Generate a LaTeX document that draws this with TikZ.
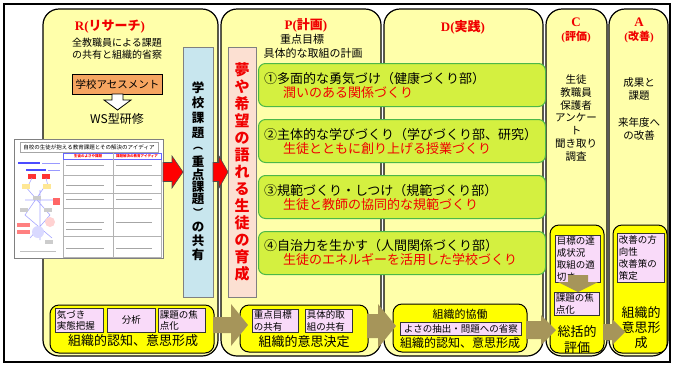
\documentclass[tikz,border=0pt]{standalone}
\usepackage{fontspec}
\setmainfont{Noto Sans CJK JP}
\newfontfamily\lserif{Liberation Serif}
\newcommand\fsz[2]{\fontsize{#1pt}{#2pt}\selectfont}
\definecolor{colY}{HTML}{FFFFAA}
\definecolor{barY}{HTML}{FFFF00}
\definecolor{pinkbox}{HTML}{F9DAF9}
\definecolor{orangebox}{HTML}{F6A560}
\definecolor{bluebox}{HTML}{C8E6EE}
\definecolor{peachbox}{HTML}{FCE0D2}
\definecolor{gfill}{HTML}{D4F040}
\definecolor{gborder}{HTML}{4CB848}
\definecolor{olivec}{HTML}{A6955A}
\definecolor{tred}{HTML}{F00000}
\newcommand\harrow[7]{\draw[#1] (#2,#5-#6) -- (#3,#5-#6) -- (#3,#5-#7) -- (#4,#5) -- (#3,#5+#7) -- (#3,#5+#6) -- (#2,#5+#6) -- cycle;}
\begin{document}
\begin{tikzpicture}[x=1pt,y=-1pt,
  col/.style={draw=black, line width=1.2pt, fill=colY, rounded corners=16pt},
  ybar/.style={draw=black, line width=1pt, fill=barY, rounded corners=9pt},
  pbox/.style={draw=black!80, line width=0.8pt, fill=pinkbox, inner sep=1pt, font=\fsz{9.5}{11.5}},
  gbox/.style={draw=gborder, line width=1pt, fill=gfill, rounded corners=7pt, anchor=north west, minimum width=287pt, minimum height=43pt},
  gline/.style={anchor=west, font=\fsz{13}{13}, inner sep=0pt},
  olivearrow/.style={fill=olivec, draw=none},
  redarrow/.style={fill=red, draw=black!70, line width=0.6pt},
  lbl/.style={text=tred, font=\bfseries\fsz{13}{13}},
  vch/.style={font=\bfseries\fsz{12.5}{12.5}, inner sep=0pt},
  vpar/.style={font=\bfseries\fsz{10}{10}, inner sep=0pt},
  vchr/.style={font=\bfseries\fsz{15}{15}, inner sep=0pt, text=tred},
  sstext/.style={draw=gray!70, line width=0.9pt},
]
\useasboundingbox (0,0) rectangle (674,365);
\fill[white] (0,0) rectangle (674,365);
\draw[line width=1.5pt] (4,4) rectangle (670,362);

% columns
\draw[col] (43,9) rectangle (218,356);
\draw[col] (221,9) rectangle (381,356);
\draw[col] (384,9) rectangle (543,356);
\draw[col] (546,9) rectangle (607,356);
\draw[col] (609,9) rectangle (668,356);

% ---- R column
\node[lbl] (rlab) at (110,27) {{\lserif R(}リサーチ{\lserif )}};
\node[align=center, font=\fsz{10}{12}] (rtext) at (117,49) {全教職員による課題\\の共有と組織的省察};
\node[draw=black, line width=1pt, fill=orangebox, minimum width=85pt, minimum height=20pt, font=\fsz{10.5}{10.5}] (assess) at (117.5,84) {学校アセスメント};
\draw[fill=white, draw=black, line width=0.8pt] (112,94) -- (123,94) -- (123,100) -- (131,100) -- (117.5,110) -- (104,100) -- (112,100) -- cycle;
\node[font=\fsz{12}{12}] (ws) at (117,119) {WS型研修};

% screenshot
\draw[gray, line width=0.8pt, fill=white] (14,139) rectangle (163,258);
\node[draw=gray!70, fill=white, minimum width=138pt, minimum height=10pt, inner sep=0pt, font=\fsz{5.5}{6}] (sstitle) at (89,147) {自校の生徒が抱える教育課題とその解決のアイディア};
\draw[gray!60] (63,153) rectangle (161,257);
\draw[blue!60, line width=0.7pt] (63,153) rectangle (161,159);
\draw[gray!60] (113,153) -- (113,257);
\node[text=red, font=\bfseries\fsz{3.5}{3.5}, inner sep=0pt] (ssh1) at (88,156) {生徒のよさや課題};
\node[text=red, font=\bfseries\fsz{3.5}{3.5}, inner sep=0pt] (ssh2) at (137,156) {課題解決の教育アイディア};
\foreach \yy in {175,193,208,236} \draw[gray!60] (63,\yy) -- (161,\yy);
\foreach \yy in {165,185,199,222,248} {
  \draw[sstext] (66,\yy) -- (104,\yy);
  \draw[sstext] (116,\yy) -- (152,\yy);
}
\draw[sstext] (66,229) -- (102,229);
% mind map
\draw[blue!70, line width=1.2pt] (18,163) -- (40,163);
\draw[blue!40, line width=1pt] (42,163) -- (60,163);
\draw[blue!70, line width=1.2pt] (26,170) -- (46,170);
\draw[blue!40, line width=1pt] (48,170) -- (60,170);
\fill[red!80] (28,174) rectangle (36,179);
\fill[red!80] (42,174) rectangle (50,179);
\draw[blue!35, line width=0.6pt] (25,186) -- (50,215) -- (30,238) (45,186) -- (25,215) -- (52,238) (32,178) -- (28,186) (46,178) -- (48,186) (25,200) -- (55,200) (40,190) -- (40,240);
\fill[yellow!60!orange!40] (22,184) rectangle (30,189);
\fill[yellow!60!orange!40] (43,184) rectangle (51,189);
\fill[gray!40] (33,196) rectangle (41,200);
\fill[gray!40] (20,208) rectangle (28,212);
\fill[gray!40] (44,208) rectangle (52,212);
\fill[red!60] (53,198) rectangle (60,205);
\fill[pink!70] (50,222) circle (5);
\fill[blue!15] (38,232) circle (6);
\fill[red!50] (17,223) rectangle (30,227);
\fill[red!50] (17,230) rectangle (30,234);
\fill[gray!40] (45,240) rectangle (53,244);
\draw[gray!50, line width=0.8pt] (20,251) -- (56,251);

% blue vertical box
\node[draw=gray, line width=0.8pt, fill=bluebox, minimum width=30pt, minimum height=250pt, inner sep=0pt] (kadai) at (198,172) {};
\foreach \ch/\yy [count=\i] in {学/88,校/103,課/118,題/133,重/162,点/174.5,課/187,題/199.5,の/227,共/241,有/255}
  \node[vch] (k\i) at (198,\yy) {\ch};
\node[vpar] (kp1) at (198,148.5) {︵};
\node[vpar] (kp2) at (198,212.5) {︶};

% red arrows
\harrow{redarrow}{163}{172}{183}{172}{9.5}{16}
\harrow{redarrow}{213}{219}{228}{172}{9.5}{16}

% ---- P column
\node[lbl] (plab) at (306,25) {{\lserif P(}計画{\lserif )}};
\node[font=\fsz{11}{11}] (pt1) at (302,39) {重点目標};
\node[font=\fsz{11}{11}] (pt2) at (313,53) {具体的な取組の計画};
\node[draw=gray, line width=0.8pt, fill=peachbox, minimum width=28pt, minimum height=250pt, inner sep=0pt] (yume) at (242,172) {};
\foreach \ch [count=\i] in {夢,や,希,望,の,語,れ,る,生,徒,の,育,成}
  \node[vchr] (y\i) at (242,53+17*\i) {\ch};

% green boxes
\node[gbox] (g1) at (258,63) {};
\node[gline] (g1a) at (264,79) {①多面的な勇気づけ（健康づくり部）};
\node[gline, text=tred] (g1b) at (283,93) {潤いのある関係づくり};
\node[gbox] (g2) at (258,119) {};
\node[gline] (g2a) at (264,135) {②主体的な学びづくり（学びづくり部、研究）};
\node[gline, text=tred] (g2b) at (283,149) {生徒とともに創り上げる授業づくり};
\node[gbox] (g3) at (258,175) {};
\node[gline] (g3a) at (264,191) {③規範づくり・しつけ（規範づくり部）};
\node[gline, text=tred] (g3b) at (283,205) {生徒と教師の協同的な規範づくり};
\node[gbox] (g4) at (258,231) {};
\node[gline] (g4a) at (264,246) {④自治力を生かす（人間関係づくり部）};
\node[gline, text=tred] (g4b) at (283,260) {生徒のエネルギーを活用した学校づくり};

% ---- D column
\node[lbl] (dlab) at (463,27) {{\lserif D(}実践{\lserif )}};

% ---- C column
\node[text=tred, font=\lserif\bfseries\fsz{13}{13}] (clab) at (576,22) {C};
\node[text=tred, font=\bfseries\fsz{11}{11}] (clab2) at (576,37) {{\lserif (}評価{\lserif )}};
\node[align=center, font=\fsz{10.5}{12.7}] (cbody) at (576,118) {生徒\\教職員\\保護者\\アンケー\\ト\\聞き取り\\調査};

% ---- A column
\node[text=tred, font=\lserif\bfseries\fsz{13}{13}] (alab) at (639,22) {A};
\node[text=tred, font=\bfseries\fsz{11}{11}] (alab2) at (639,37) {{\lserif (}改善{\lserif )}};
\node[align=center, font=\fsz{10.5}{12.5}] (abody1) at (639,89) {成果と\\課題};
\node[align=center, font=\fsz{10.5}{13.5}] (abody2) at (639,129) {来年度へ\\の改善};

% ---- bottom bars
% R
\draw[ybar] (50,305) rectangle (214,353);
\node[pbox, minimum width=48pt, minimum height=24pt, text width=45pt, align=left, anchor=north west] (rp1) at (55,308) {気づき\\実態把握};
\node[pbox, minimum width=48pt, minimum height=24pt, text width=45pt, align=center, anchor=north west] (rp2) at (107,308) {分析};
\node[pbox, minimum width=47pt, minimum height=24pt, text width=44pt, align=left, anchor=north west] (rp3) at (158,308) {課題の焦\\点化};
\node[font=\fsz{13}{13}] (rbt) at (133,341) {組織的認知、意思形成};
% P
\draw[ybar] (240,305) rectangle (368,352);
\node[pbox, minimum width=46pt, minimum height=23pt, text width=43pt, align=left, anchor=north west] (pp1) at (252,309) {重点目標\\の共有};
\node[pbox, minimum width=47pt, minimum height=23pt, text width=44pt, align=left, anchor=north west] (pp2) at (305,309) {具体的取\\組の共有};
\node[font=\fsz{13}{13}] (pbt) at (304,342) {組織的意思決定};
% D
\draw[ybar] (393,304) rectangle (527,352);
\node[font=\fsz{11}{11}] (dbt1) at (460,314) {組織的協働};
\node[pbox, minimum width=121pt, minimum height=13pt, anchor=north west] (dp1) at (400,322) {よさの抽出・問題への省察};
\node[font=\fsz{12}{12}] (dbt2) at (460,343) {組織的認知、意思形成};
% C
\draw[ybar] (550,225) rectangle (604,353);
\node[pbox, minimum width=45pt, minimum height=47pt, text width=42pt, align=left, anchor=north west, font=\fsz{9.5}{12}] (cp1) at (555,235) {目標の達\\成状況\\取組の適\\切さ};
\draw[olivearrow] (568,275) -- (588,275) -- (588,282) -- (598,282) -- (578,292) -- (558,282) -- (568,282) -- cycle;
\node[pbox, minimum width=45pt, minimum height=23pt, text width=42pt, align=left, anchor=north west, font=\fsz{9.5}{12}] (cp2) at (554,292) {課題の焦\\点化};
\node[align=center, font=\fsz{13}{16}] (cbt) at (577,340) {総括的\\評価};
% A
\draw[ybar] (613,225) rectangle (667,353);
\node[pbox, minimum width=47pt, minimum height=49pt, text width=44pt, align=left, anchor=north west, font=\fsz{9.5}{12}] (ap1) at (617,233) {改善の方\\向性\\改善策の\\策定};
\node[align=center, font=\fsz{13}{15}] (abt) at (641,328) {組織的\\意思形\\成};

% olive arrows
\harrow{olivearrow}{213}{231}{248}{325}{8}{21}
\harrow{olivearrow}{367}{378}{396}{326}{12}{22}
\harrow{olivearrow}{526}{541}{556}{330}{9}{15}
\harrow{olivearrow}{603}{612}{625}{332}{8}{13}
\end{tikzpicture}
\end{document}
